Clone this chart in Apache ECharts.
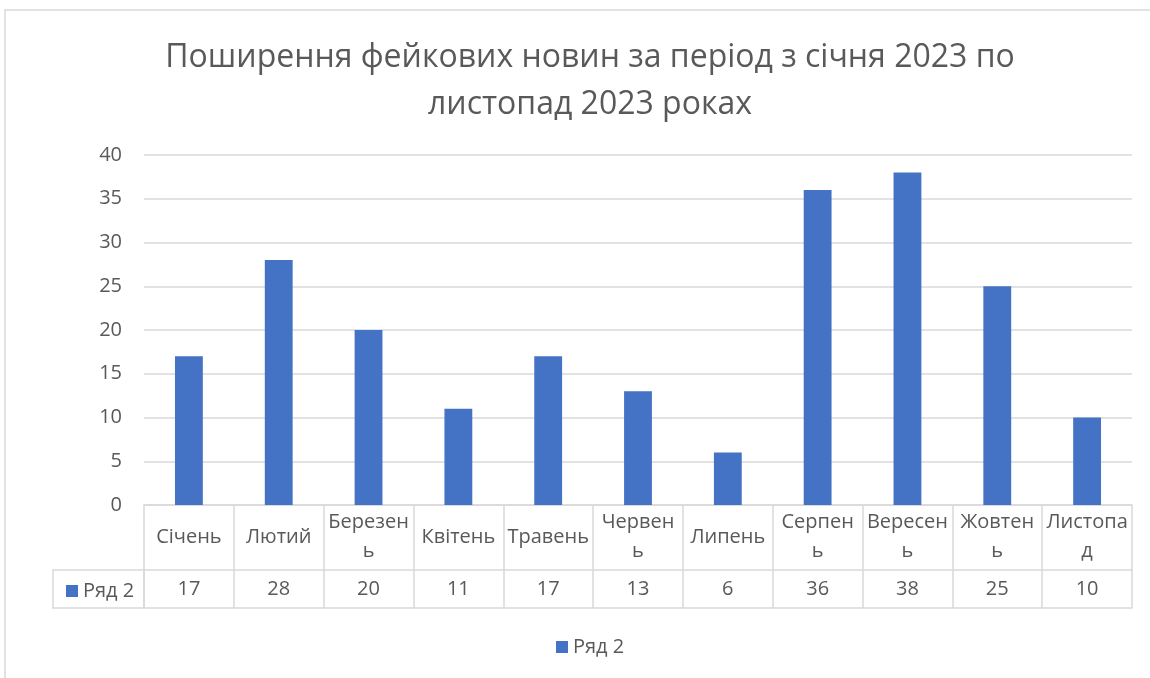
<!DOCTYPE html>
<html>
<head>
<meta charset="utf-8">
<script src="https://cdn.jsdelivr.net/npm/echarts@6/dist/echarts.min.js"></script>
<style>
  html, body { margin: 0; padding: 0; background: #fff; }
  #chart { width: 1150px; height: 678px; }
</style>
</head>
<body>
<div id="chart"></div>
<script>
  // дані
  var titleText = 'Поширення фейкових новин за період з січня 2023 по\nлистопад 2023 роках';
  var seriesName = 'Ряд 2';
  var months = ['Січень', 'Лютий', 'Березень', 'Квітень', 'Травень', 'Червень',
                'Липень', 'Серпень', 'Вересень', 'Жовтень', 'Листопад'];
  var values = [17, 28, 20, 11, 17, 13, 6, 36, 38, 25, 10];
  var yTicks = { min: 0, max: 40, interval: 5 };

  var font = 'Open Sans';
  var grey = '#595959';
  var lineGrey = '#d9d9d9';
  var labelSize = 20;

  // перенос підпису, як у таблиці Excel: ламаємо по символах, якщо не влазить у клітинку
  var ctx = document.createElement('canvas').getContext('2d');
  function wrapCell(text, maxW) {
    ctx.font = labelSize + 'px "' + font + '"';
    var lines = [], cur = '';
    for (var i = 0; i < text.length; i++) {
      var next = cur + text[i];
      if (cur && ctx.measureText(next).width > maxW) {
        lines.push(cur);
        cur = text[i];
      } else {
        cur = next;
      }
    }
    lines.push(cur);
    return lines.join('\n');
  }

  var myChart = echarts.init(document.getElementById('chart'));

  var option = {
    animation: false,
    textStyle: { fontFamily: font },
    title: {
      text: titleText,
      left: 585,
      top: 29,
      textAlign: 'center',
      textStyle: { color: grey, fontSize: 32, fontWeight: 'normal', lineHeight: 47, fontFamily: font }
    },
    graphic: [
      { // рамка діаграми
        type: 'rect', silent: true,
        shape: { x: 5, y: 10, width: 1200, height: 720 },
        style: { fill: 'none', stroke: lineGrey, lineWidth: 1.5 }
      },
      { // клітинка легенди в таблиці
        type: 'rect', silent: true,
        shape: { x: 53, y: 570, width: 91, height: 38 },
        style: { fill: 'none', stroke: lineGrey, lineWidth: 1.5 }
      }
    ],
    legend: [
      {
        data: [seriesName],
        top: 632,
        left: 551,
        icon: 'rect',
        itemWidth: 12, itemHeight: 12, itemGap: 6,
        selectedMode: false,
        textStyle: { color: grey, fontSize: labelSize, fontFamily: font }
      },
      {
        data: [seriesName],
        top: 576,
        left: 61,
        icon: 'rect',
        itemWidth: 12, itemHeight: 12, itemGap: 6,
        selectedMode: false,
        textStyle: { color: grey, fontSize: labelSize, fontFamily: font }
      }
    ],
    grid: { left: 144, right: 18, top: 155, bottom: 173, containLabel: false },
    xAxis: [
      {
        type: 'category',
        data: months,
        position: 'bottom',
        axisLine: { show: true, lineStyle: { color: lineGrey, width: 1.5 } },
        axisTick: { show: true, interval: 0, length: 103, lineStyle: { color: lineGrey, width: 1.5 } },
        axisLabel: {
          interval: 0,
          color: grey,
          fontSize: labelSize,
          margin: 32,
          verticalAlign: 'middle',
          lineHeight: 29,
          formatter: function (v) { return wrapCell(v, 83); }
        }
      },
      {
        type: 'category',
        data: months,
        position: 'bottom',
        offset: 65,
        axisLine: { show: true, lineStyle: { color: lineGrey, width: 1.5 } },
        axisTick: { show: false },
        axisLabel: {
          interval: 0,
          color: grey,
          fontSize: labelSize,
          margin: 19,
          verticalAlign: 'middle',
          formatter: function (v, i) { return values[i]; }
        }
      },
      {
        type: 'category',
        data: months,
        position: 'bottom',
        offset: 103,
        axisLine: { show: true, lineStyle: { color: lineGrey, width: 1.5 } },
        axisTick: { show: false },
        axisLabel: { show: false }
      }
    ],
    yAxis: {
      type: 'value',
      min: yTicks.min,
      max: yTicks.max,
      interval: yTicks.interval,
      axisLine: { show: false },
      axisTick: { show: false },
      splitLine: { lineStyle: { color: lineGrey, width: 1.5 } },
      axisLabel: { color: grey, fontSize: labelSize, margin: 22 }
    },
    series: [
      {
        name: seriesName,
        type: 'bar',
        xAxisIndex: 0,
        data: values,
        barWidth: '31%',
        itemStyle: { color: '#4472c4' }
      }
    ]
  };

  myChart.setOption(option);
</script>
</body>
</html>
